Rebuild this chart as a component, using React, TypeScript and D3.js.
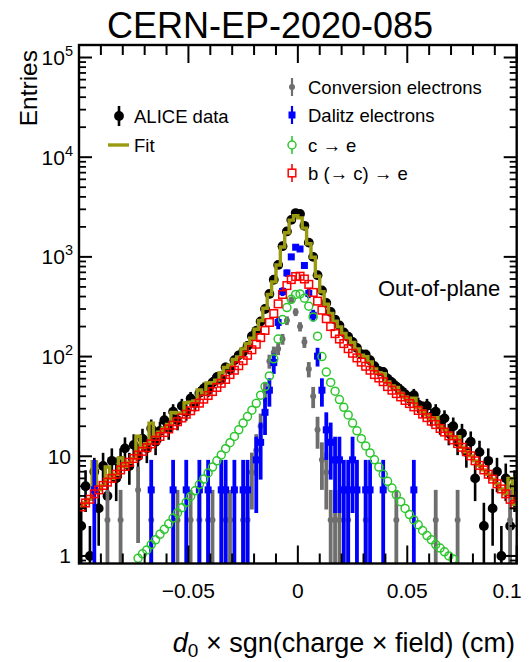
import React from "react";
import * as d3 from "d3";

const W = 531;
const H = 662;

// bin centres (cm), bin width 0.002
const binCenters = [
  -0.099, -0.097, -0.095, -0.093, -0.091, -0.089, -0.087, -0.085, -0.083, -0.081,
  -0.079, -0.077, -0.075, -0.073, -0.071, -0.069, -0.067, -0.065, -0.063, -0.061,
  -0.059, -0.057, -0.055, -0.053, -0.051, -0.049, -0.047, -0.045, -0.043, -0.041,
  -0.039, -0.037, -0.035, -0.033, -0.031, -0.029, -0.027, -0.025, -0.023, -0.021,
  -0.019, -0.017, -0.015, -0.013, -0.011, -0.009, -0.007, -0.005, -0.003, -0.001,
  0.001, 0.003, 0.005, 0.007, 0.009, 0.011, 0.013, 0.015, 0.017, 0.019,
  0.021, 0.023, 0.025, 0.027, 0.029, 0.031, 0.033, 0.035, 0.037, 0.039,
  0.041, 0.043, 0.045, 0.047, 0.049, 0.051, 0.053, 0.055, 0.057, 0.059,
  0.061, 0.063, 0.065, 0.067, 0.069, 0.071, 0.073, 0.075, 0.077, 0.079,
  0.081, 0.083, 0.085, 0.087, 0.089, 0.091, 0.093, 0.095, 0.097, 0.099,
];
const binWidth = 0.002;

const aliceData = [
  2, 5, 1, 7, 3, 8, 4, 9, 6, 9,
  12, 8, 13, 10, 15, 12, 19, 14, 18, 23,
  19, 28, 23, 32, 28, 38, 34, 43, 48, 46,
  55, 62, 60, 78, 74, 92, 103, 112, 128, 160,
  182, 225, 300, 425, 590, 830, 1280, 1800, 2350, 2750,
  2700, 2050, 1390, 1000, 655, 460, 345, 280, 235, 205,
  175, 158, 140, 122, 106, 105, 92, 80, 72, 70,
  60, 55, 50, 46, 42, 38, 41, 33, 30, 32,
  25, 28, 21, 24, 17, 20, 14, 17, 11, 14,
  6, 11, 2, 9, 3, 7, 1, 6, 2, 5,
];

const fitValues = [
  3.1, 3.4, 3.7, 8.8, 4.6, 5.1, 7.8, 6.0, 6.6, 9.6,
  7.9, 8.7, 9.5, 15.85, 12.25, 13.35, 21.5, 15.95, 17.45, 19.15,
  20.9, 27.5, 27.2, 27.25, 34.45, 34.85, 35.9, 46.2, 43.3, 54.4,
  54.7, 58, 68.9, 77.8, 82, 93.4, 99.4, 119.4, 134.9, 152.9,
  187.7, 229.8, 305.6, 420, 562, 828, 1255, 1745, 2337, 2585,
  2465, 1945, 1355, 990, 639.4, 447.2, 335.3, 271.1, 226.5, 198.5,
  170.6, 152.9, 138.7, 119.6, 103, 99.6, 88.4, 75.2, 68.8, 67.2,
  55.6, 50.8, 48.9, 42.9, 39.3, 36.4, 38.2, 30.85, 28.3, 26,
  23.95, 24.4, 20.2, 18.6, 17, 15.53, 15.7, 12.3, 11.1, 10.1,
  9.0, 8.1, 7.3, 6.6, 5.9, 5.3, 4.7, 4.2, 6.0, 3.3,
];

const conversionElectrons = [
  0, 0, 0, 0, 0, 0, 2.3, 0, 0, 2.3,
  0, 0, 0, 4.6, 0, 0, 2.3, 0, 0, 0,
  0, 0, 2.3, 0, 0, 2.3, 0, 2.3, 0, 2.3,
  2.3, 0, 0, 2.3, 2.3, 0, 0, 2.3, 2.3, 6.9,
  11.5, 20, 45, 90, 110, 120, 150, 230, 370, 280,
  200, 140, 75, 40, 18.4, 9.2, 6.9, 2.3, 2.3, 2.3,
  0, 2.3, 0, 0, 0, 2.3, 0, 0, 0, 0,
  0, 0, 2.3, 0, 0, 0, 0, 0, 0, 0,
  0, 2.3, 0, 0, 0, 0, 2.3, 0, 0, 0,
  0, 0, 0, 0, 0, 0, 0, 0, 2.3, 0,
];
const conversionWeight = 2.3;

const dalitzElectrons = [
  0, 0, 0, 4.6, 0, 0, 0, 0, 0, 0,
  0, 0, 0, 0, 0, 0, 4.6, 0, 0, 0,
  0, 4.6, 0, 0, 4.6, 0, 0, 4.6, 0, 4.6,
  0, 0, 4.6, 4.6, 0, 4.6, 0, 4.6, 4.6, 0,
  9.2, 13.8, 27.6, 46, 87, 220, 450, 690, 1000, 1250,
  1200, 820, 430, 260, 101, 46, 18.4, 13.8, 9.2, 9.2,
  4.6, 4.6, 9.2, 4.6, 0, 4.6, 4.6, 0, 0, 4.6,
  0, 0, 0, 0, 0, 0, 4.6, 0, 0, 0,
  0, 0, 0, 0, 0, 0, 0, 0, 0, 0,
  0, 0, 0, 0, 0, 0, 0, 0, 0, 0,
];
const dalitzWeight = 4.6;

const charmElectrons = [
  0, 0, 0, 0, 0, 0, 0, 0, 0, 0,
  0, 0, 0, 0.95, 1.05, 1.15, 1.3, 1.45, 1.65, 1.85,
  2.1, 2.4, 2.7, 3.05, 3.45, 3.95, 4.5, 5.2, 5.9, 6.8,
  7.8, 9.0, 10.3, 11.9, 13.7, 15.8, 18.4, 21.5, 25, 29,
  34, 41, 50, 64, 95, 150, 235, 310, 375, 420,
  425, 385, 320, 250, 160, 100, 70, 55, 45, 37,
  31, 26, 21.5, 18, 15, 12.7, 10.8, 9.2, 7.8, 6.6,
  5.6, 4.8, 4.1, 3.5, 3.0, 2.6, 2.3, 2.05, 1.8, 1.6,
  1.45, 1.3, 1.2, 1.1, 1.0, 0.93, 0, 0, 0, 0,
  0, 0, 0, 0, 0, 0, 0, 0, 0, 0,
];

const beautyElectrons = [
  3.1, 3.4, 3.7, 4.2, 4.6, 5.1, 5.5, 6.0, 6.6, 7.3,
  7.9, 8.7, 9.5, 10.3, 11.2, 12.2, 13.3, 14.5, 15.8, 17.3,
  18.8, 20.5, 22.2, 24.2, 26.4, 28.6, 31.4, 34.1, 37.4, 40.7,
  44.6, 49, 54, 59, 66, 73, 81, 91, 103, 117,
  133, 155, 183, 220, 270, 338, 420, 515, 592, 635,
  640, 600, 530, 440, 360, 292, 240, 200, 170, 150,
  135, 120, 108, 97, 88, 80, 73, 66, 61, 56,
  50, 46, 42.5, 39.4, 36.3, 33.8, 31.3, 28.8, 26.5, 24.4,
  22.5, 20.8, 19, 17.5, 16, 14.6, 13.4, 12.3, 11.1, 10.1,
  9.0, 8.1, 7.3, 6.6, 5.9, 5.3, 4.7, 4.2, 3.7, 3.3,
];

const xMajorTicks = [-0.1, -0.05, 0, 0.05, 0.1];
const xTickLabels = ["\u22120.05", "0", "0.05", "0.1"];
const xLabelTicks = [-0.05, 0, 0.05, 0.1];
const yDecades = [0, 1, 2, 3, 4, 5];

const FONT = "'Liberation Sans', Arial, Helvetica, sans-serif";
const OLIVE = "#9a9a10";
const GRAY = "#6e6e6e";
const BLUE = "#0000ff";
const GREEN = "#2fc72f";
const RED = "#ff0000";

const L = 79, R = 516.7, T = 45, B = 563.5;

export default function App() {
  const x = d3.scaleLinear().domain([-0.1, 0.1]).range([L, R]);
  const y = d3.scaleLog().domain([0.84, 1.335e5]).range([B, T]);
  const yc = (v: number) => (v <= 0 ? B + 50 : y(v));

  const xMinor = d3.range(-10, 11).map((i) => i * 0.01);
  const yMinor: number[] = [];
  for (let k = -1; k <= 5; k++) for (let m = 2; m <= 9; m++) {
    const v = m * Math.pow(10, k);
    if (v > 0.84 && v < 1.335e5) yMinor.push(v);
  }

  const fitPts: [number, number][] = [];
  binCenters.forEach((c, i) => {
    fitPts.push([c - binWidth / 2, fitValues[i]]);
    fitPts.push([c + binWidth / 2, fitValues[i]]);
  });
  const fitLine = d3.line<[number, number]>().x((d) => x(d[0])).y((d) => yc(d[1]));

  const errBar = (c: number, v: number, e: number, key: string, color: string, w: number) => (
    <line key={key} x1={x(c)} x2={x(c)} y1={yc(v + e)} y2={v - e > 0.5 ? yc(v - e) : B + 5} stroke={color} strokeWidth={w} />
  );

  return (
    <svg width={W} height={H} style={{ position: "absolute", left: 0, top: 0, background: "#fff" }} fontFamily={FONT}>
      <defs>
        <clipPath id="frame">
          <rect x={L} y={T} width={R - L} height={B - T} />
        </clipPath>
      </defs>
      <rect x={0} y={0} width={W} height={H} fill="#fff" />
      <g clipPath="url(#frame)">
        {binCenters.map((c, i) => {
          const v = aliceData[i];
          if (v <= 0) return null;
          return errBar(c, v, Math.sqrt(v), "de" + i, "#000", 2.6);
        })}
        {binCenters.map((c, i) => {
          const v = aliceData[i];
          if (v <= 0) return null;
          return <circle key={"d" + i} cx={x(c)} cy={yc(v)} r={4.9} fill="#000" />;
        })}
        <path d={fitLine(fitPts) || ""} fill="none" stroke={OLIVE} strokeWidth={3.4} />
        {binCenters.map((c, i) => {
          const v = conversionElectrons[i];
          if (v <= 0) return null;
          return (
            <g key={"g" + i}>
              {errBar(c, v, Math.sqrt(v * conversionWeight), "ge" + i, GRAY, 3.8)}
              <circle cx={x(c)} cy={yc(v)} r={3} fill={GRAY} />
            </g>
          );
        })}
        {binCenters.map((c, i) => {
          const v = dalitzElectrons[i];
          if (v <= 0) return null;
          return (
            <g key={"b" + i}>
              {errBar(c, v, Math.sqrt(v * dalitzWeight), "be" + i, BLUE, 3.8)}
              <rect x={x(c) - 3.5} y={yc(v) - 3.5} width={7} height={7} fill={BLUE} />
            </g>
          );
        })}
        {binCenters.map((c, i) => {
          const v = charmElectrons[i];
          if (v <= 0) return null;
          return <circle key={"c" + i} cx={x(c)} cy={yc(v)} r={4} fill="none" stroke={GREEN} strokeWidth={1.5} />;
        })}
        {binCenters.map((c, i) => {
          const v = beautyElectrons[i];
          if (v <= 0) return null;
          return <rect key={"r" + i} x={x(c) - 3.8} y={yc(v) - 3.8} width={7.6} height={7.6} fill="none" stroke={RED} strokeWidth={1.5} />;
        })}
      </g>

      <rect x={L} y={T} width={R - L} height={B - T} fill="none" stroke="#000" strokeWidth={2.4} />
      {xMinor.map((t, i) => {
        const major = xMajorTicks.some((m) => Math.abs(m - t) < 1e-9);
        const len = major ? 18 : 10;
        return (
          <g key={"xt" + i} stroke="#000" strokeWidth={2}>
            <line x1={x(t)} x2={x(t)} y1={B} y2={B - len} />
            <line x1={x(t)} x2={x(t)} y1={T} y2={T + len} />
          </g>
        );
      })}
      {yDecades.map((k) => {
        const v = Math.pow(10, k);
        return (
          <g key={"yt" + k} stroke="#000" strokeWidth={2}>
            <line x1={L} x2={L + 13} y1={y(v)} y2={y(v)} />
            <line x1={R} x2={R - 13} y1={y(v)} y2={y(v)} />
          </g>
        );
      })}
      {yMinor.map((v, i) => (
        <g key={"ym" + i} stroke="#000" strokeWidth={1.8}>
          <line x1={L} x2={L + 7} y1={y(v)} y2={y(v)} />
          <line x1={R} x2={R - 7} y1={y(v)} y2={y(v)} />
        </g>
      ))}
      {yDecades.map((k) => {
        const v = Math.pow(10, k);
        const yy = y(v) + 7.5;
        if (k === 0)
          return <text key={"yl" + k} x={71} y={yy} textAnchor="end" fontSize={21}>1</text>;
        if (k === 1)
          return <text key={"yl" + k} x={71} y={yy} textAnchor="end" fontSize={21}>10</text>;
        return (
          <text key={"yl" + k} x={73} y={yy} textAnchor="end" fontSize={21}>
            10<tspan dy={-9} fontSize={14.5}>{k}</tspan>
          </text>
        );
      })}
      {xLabelTicks.map((t, i) => {
        const last = i === xLabelTicks.length - 1;
        return (
          <text key={"xl" + i} x={last ? x(t) + 5 : x(t)} y={598} textAnchor={last ? "end" : "middle"} fontSize={21}>
            {xTickLabels[i]}
          </text>
        );
      })}
      <text x={515} y={652} textAnchor="end" fontSize={27}>
        <tspan fontStyle="italic">d</tspan>
        <tspan dy={5} fontSize={19}>0</tspan>
        <tspan dy={-5}>{" \u00d7 sgn(charge \u00d7 field) (cm)"}</tspan>
      </text>
      <text transform="translate(37,50) rotate(-90)" textAnchor="end" fontSize={24.5}>Entries</text>
      <text x={270} y={38} textAnchor="middle" fontSize={36}>CERN-EP-2020-085</text>
      <text x={378} y={296} fontSize={22}>Out-of-plane</text>

      <line x1={119} x2={119} y1={106} y2={126} stroke="#000" strokeWidth={2.6} />
      <circle cx={119} cy={116} r={4.9} fill="#000" />
      <text x={134} y={122.5} fontSize={18.5}>ALICE data</text>
      <line x1={108} x2={129} y1={145} y2={145} stroke={OLIVE} strokeWidth={3.4} />
      <text x={134} y={152} fontSize={18.5}>Fit</text>

      <line x1={292} x2={292} y1={78} y2={96} stroke={GRAY} strokeWidth={2.2} />
      <circle cx={292} cy={87} r={3} fill={GRAY} />
      <text x={308} y={93.5} fontSize={18.5}>Conversion electrons</text>
      <line x1={292} x2={292} y1={106} y2={124} stroke={BLUE} strokeWidth={2.2} />
      <rect x={288.5} y={111.5} width={7} height={7} fill={BLUE} />
      <text x={308} y={121.5} fontSize={18.5}>Dalitz electrons</text>
      <line x1={292} x2={292} y1={136} y2={154} stroke={GREEN} strokeWidth={1.6} />
      <circle cx={292} cy={145} r={4} fill="#fff" stroke={GREEN} strokeWidth={1.5} />
      <text x={308} y={151.5} fontSize={18.5}>c {"\u2192"} e</text>
      <line x1={292} x2={292} y1={164} y2={182} stroke={RED} strokeWidth={1.6} />
      <rect x={288.2} y={169.2} width={7.6} height={7.6} fill="#fff" stroke={RED} strokeWidth={1.5} />
      <text x={308} y={179.5} fontSize={18.5}>b ({"\u2192"} c) {"\u2192"} e</text>
    </svg>
  );
}
